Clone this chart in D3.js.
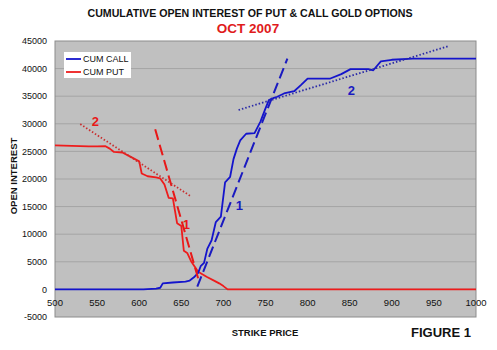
<!DOCTYPE html>
<html><head><meta charset="utf-8">
<script src="https://cdn.jsdelivr.net/npm/d3@7"></script>
<style>body{margin:0;background:#fff}svg{display:block;font-family:"Liberation Sans",Arial,sans-serif}</style>
</head><body><svg id="c" width="497" height="350"></svg>
<script>
const xTicks = [500,550,600,650,700,750,800,850,900,950,1000];
const yTicks = [-5000,0,5000,10000,15000,20000,25000,30000,35000,40000,45000];

const callStrikes = [500,600,605,620,625,628,640,655,660,665,670,673,677,681,686,691,697,702,708,712,716,720,727,737,744,750,754,760,764,772,784,792,800,815,827,840,851,872,878,887,900,925,1000];
const callValues  = [0,0,0,150,300,1100,1250,1400,1600,2200,3000,4200,4800,7400,8900,12200,13200,19400,20400,23600,25500,27000,28200,28300,30400,32800,34300,34700,34900,35500,35900,37000,38200,38200,38200,39000,39900,39900,39700,41300,41600,41800,41800];

const putStrikes = [500,510,520,530,540,550,560,565,570,580,590,600,603,610,620,625,630,635,640,645,650,653,657,662,670,680,690,695,700,705,1000];
const putValues  = [26100,26050,26000,25950,25900,25900,25950,25500,24900,24800,24000,23200,21000,20500,20300,20100,19000,16600,16500,12000,11500,7000,6600,5000,3200,2300,1500,1100,600,0,0];

// trend lines [strike, value] endpoints
const callTrend1 = [[669,500],[776,41800]];
const callTrend2 = [[718,32500],[968,44100]];
const putTrend1  = [[619,29000],[670,2000]];
const putTrend2  = [[530,29950],[661,16900]];
const trendLabels = [
  {t:"2", s:548, v:30500, c:"red"},
  {t:"1", s:656, v:11900, c:"red"},
  {t:"1", s:719, v:15300, c:"blue"},
  {t:"2", s:852, v:36200, c:"blue"}
];
const seriesNames = ["CUM CALL","CUM PUT"];

const BLUE = "#1414cc", RED = "#ee1c1c", TRED = "#e81818", TBLUE = "#1a1ac0";
const svg = d3.select("#c");
const L = 55, R = 476, T = 41, B = 317;
const x = d3.scaleLinear().domain([500,1000]).range([L,R]);
const y = d3.scaleLinear().domain([-5000,45000]).range([B,T]);

svg.append("rect").attr("x",L).attr("y",T).attr("width",R-L).attr("height",B-T).attr("fill","#c0c0c0");
// gridlines
svg.append("g").selectAll("line").data(yTicks.filter(d=>d!==-5000&&d!==45000)).join("line")
  .attr("x1",L).attr("x2",R).attr("y1",d=>y(d)).attr("y2",d=>y(d)).attr("stroke","#a4a4a4").attr("stroke-width",1);
svg.append("rect").attr("x",L).attr("y",T).attr("width",R-L).attr("height",B-T).attr("fill","none").attr("stroke","#8c8c8c").attr("stroke-width",1);
// zero axis
svg.append("line").attr("x1",L).attr("x2",R).attr("y1",y(0)).attr("y2",y(0)).attr("stroke","#808080");

// y tick labels
svg.append("g").selectAll("text").data(yTicks).join("text")
  .attr("x",47).attr("y",d=>y(d)+3.2).attr("text-anchor","end").attr("font-size",9).attr("fill","#111").text(d=>d);
// x tick labels
svg.append("g").selectAll("text").data(xTicks).join("text")
  .attr("x",d=>x(d)).attr("y",y(0)+17).attr("text-anchor","middle").attr("font-size",9.5).attr("fill","#111").text(d=>d);

const line = d3.line().x(d=>x(d[0])).y(d=>y(d[1]));
const putData = putStrikes.map((s,i)=>[s,putValues[i]]);
const callData = callStrikes.map((s,i)=>[s,callValues[i]]);
svg.append("path").attr("d",line(putData)).attr("fill","none").attr("stroke",RED).attr("stroke-width",1.8).attr("stroke-linejoin","round");
svg.append("path").attr("d",line(callData)).attr("fill","none").attr("stroke",BLUE).attr("stroke-width",1.8).attr("stroke-linejoin","round");

// trend lines
svg.append("path").attr("d",line(putTrend1)).attr("fill","none").attr("stroke",TRED).attr("stroke-width",2).attr("stroke-dasharray","11,5");
svg.append("path").attr("d",line(putTrend2)).attr("fill","none").attr("stroke","#c83030").attr("stroke-width",1.8).attr("stroke-dasharray","1.5,2");
svg.append("path").attr("d",line(callTrend1)).attr("fill","none").attr("stroke",TBLUE).attr("stroke-width",2).attr("stroke-dasharray","11,5");
svg.append("path").attr("d",line(callTrend2)).attr("fill","none").attr("stroke","#2a2aa8").attr("stroke-width",1.8).attr("stroke-dasharray","1.5,2");

svg.append("g").selectAll("text").data(trendLabels).join("text")
  .attr("x",d=>x(d.s)).attr("y",d=>y(d.v)+5).attr("text-anchor","middle").attr("font-size",13).attr("font-weight","bold")
  .attr("fill",d=>d.c==="red"?TRED:TBLUE).text(d=>d.t);

// legend
const lg = svg.append("g");
lg.append("rect").attr("x",64).attr("y",52).attr("width",67).attr("height",26).attr("fill","#fff");
[BLUE,RED].forEach((c,i)=>{
  lg.append("line").attr("x1",66).attr("x2",81).attr("y1",59+i*13).attr("y2",59+i*13).attr("stroke",c).attr("stroke-width",1.8);
  lg.append("text").attr("x",83).attr("y",62.3+i*13).attr("font-size",9).attr("fill","#111").text(seriesNames[i]);
});

// titles
svg.append("text").attr("x",250).attr("y",17).attr("text-anchor","middle").attr("font-size",11.5).attr("font-weight","bold")
  .attr("textLength",325).attr("lengthAdjust","spacingAndGlyphs").attr("fill","#111").text("CUMULATIVE OPEN INTEREST OF PUT & CALL GOLD OPTIONS");
svg.append("text").attr("x",248).attr("y",32.5).attr("text-anchor","middle").attr("font-size",13.5).attr("font-weight","bold")
  .attr("fill","#e01b1b").text("OCT 2007");
svg.append("text").attr("transform","translate(16.5,176) rotate(-90)").attr("text-anchor","middle").attr("font-size",9.5).attr("font-weight","bold")
  .attr("fill","#111").text("OPEN INTEREST");
svg.append("text").attr("x",265).attr("y",335.5).attr("text-anchor","middle").attr("font-size",9.5).attr("font-weight","bold")
  .attr("fill","#111").text("STRIKE PRICE");
svg.append("text").attr("x",441).attr("y",336.5).attr("text-anchor","middle").attr("font-size",13).attr("font-weight","bold")
  .attr("fill","#111").text("FIGURE 1");
</script></body></html>
